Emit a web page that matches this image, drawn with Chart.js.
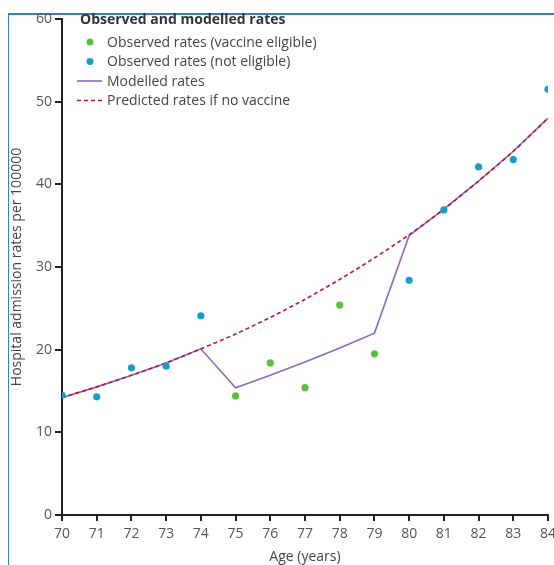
<!DOCTYPE html>
<html>
<head>
<meta charset="utf-8">
<script src="https://cdn.jsdelivr.net/npm/chart.js@4"></script>
<style>
  html, body { margin: 0; padding: 0; background: #fff; overflow: hidden; }
  #wrap { position: relative; width: 554px; height: 565px; overflow: hidden; background: #fff; }
  #frame { position: absolute; left: 8px; top: 13px; right: -2px; bottom: -2px; z-index: 0;
           border-left: 1px solid #2f80d2; border-top: 2px solid #2f80d2; }
  #box { position: absolute; left: 0; top: 0; width: 580px; height: 565px; z-index: 1; }
</style>
</head>
<body>
<div id="wrap">
  <div id="frame"></div>
  <div id="box"><canvas id="rates"></canvas></div>
</div>
<script>
const chartFont = "'Open Sans', 'Noto Sans', Arial";

const ages = [70, 71, 72, 73, 74, 75, 76, 77, 78, 79, 80, 81, 82, 83, 84];
const observed = [14.5, 14.3, 17.8, 18.0, 24.1, 14.4, 18.4, 15.4, 25.4, 19.5, 28.4, 36.9, 42.1, 43.0, 51.5];
const eligibleAges = [75, 76, 77, 78, 79];
const modelled = [14.2, 15.5, 16.9, 18.4, 20.1, 15.4, 16.9, 18.5, 20.2, 22.0, 33.8, 37.0, 40.4, 44.0, 48.0];
const predicted = [14.2, 15.5, 16.9, 18.4, 20.1, 21.9, 23.9, 26.1, 28.5, 31.1, 33.9, 37.0, 40.4, 44.0, 48.0];
const yTicks = [0, 10, 20, 30, 40, 50, 60];

const toXY = (vals, keep) => ages
  .map((a, i) => ({ x: a, y: vals[i] }))
  .filter(p => keep(p.x));

const isEligible = a => eligibleAges.includes(a);

const legendTitle = "Observed and modelled rates";

// legend drawn inside the plot area, top-left
const insideLegend = {
  id: "insideLegend",
  afterDraw(chart) {
    const ctx = chart.ctx;
    const x0 = 80, y0 = 20;
    ctx.save();
    ctx.textBaseline = "middle";
    ctx.fillStyle = "#333";
    ctx.font = "bold 14px " + chartFont;
    ctx.fillText(legendTitle, x0, y0);
    ctx.font = "14px " + chartFont;
    chart.data.datasets.forEach((ds, i) => {
      const y = y0 + 22 + i * 19.5;
      ctx.save();
      if (ds.type === "scatter") {
        ctx.fillStyle = ds.backgroundColor;
        ctx.beginPath();
        ctx.arc(x0 + 10, y, 3.5, 0, Math.PI * 2);
        ctx.fill();
      } else {
        ctx.strokeStyle = ds.borderColor;
        ctx.lineWidth = ds.borderWidth;
        ctx.setLineDash(ds.borderDash || []);
        ctx.beginPath();
        ctx.moveTo(x0 - 3, y);
        ctx.lineTo(x0 + 22, y);
        ctx.stroke();
      }
      ctx.restore();
      ctx.fillStyle = "#444";
      ctx.fillText(ds.label, x0 + 27, y + 1);
    });
    ctx.restore();
  }
};

new Chart(document.getElementById("rates"), {
  data: {
    datasets: [
      {
        type: "scatter",
        label: "Observed rates (vaccine eligible)",
        data: toXY(observed, isEligible),
        backgroundColor: "#5cbf3e",
        borderWidth: 0,
        pointRadius: 3.6,
        order: 0
      },
      {
        type: "scatter",
        label: "Observed rates (not eligible)",
        data: toXY(observed, a => !isEligible(a)),
        backgroundColor: "#199dcb",
        borderWidth: 0,
        pointRadius: 3.6,
        order: 1
      },
      {
        type: "line",
        label: "Modelled rates",
        data: toXY(modelled, () => true),
        borderColor: "#8a6ab8",
        borderWidth: 1.6,
        pointRadius: 0,
        tension: 0,
        order: 3
      },
      {
        type: "line",
        label: "Predicted rates if no vaccine",
        data: toXY(predicted, () => true),
        borderColor: "#b3164c",
        borderWidth: 1.6,
        borderDash: [4, 3],
        pointRadius: 0,
        tension: 0.3,
        order: 2
      }
    ]
  },
  options: {
    responsive: true,
    maintainAspectRatio: false,
    animation: false,
    layout: { padding: { top: 19, right: 32, bottom: 0, left: 0 } },
    plugins: {
      legend: { display: false },
      tooltip: { enabled: false }
    },
    scales: {
      x: {
        type: "linear",
        min: 70,
        max: 84,
        afterFit: s => { s.height = 50; },
        afterBuildTicks: s => { s.ticks = ages.map(v => ({ value: v })); },
        border: { color: "#222", width: 2 },
        grid: { drawOnChartArea: false, drawTicks: true, tickLength: 6, color: "#222", lineWidth: 2 },
        ticks: { color: "#555", font: { family: chartFont, size: 14 }, padding: 5, maxRotation: 0 },
        title: { display: true, text: "Age (years)", color: "#444", font: { family: chartFont, size: 14 }, padding: 0 }
      },
      y: {
        min: 0,
        max: 60,
        afterFit: s => { s.width = 62; },
        afterBuildTicks: s => { s.ticks = yTicks.map(v => ({ value: v })); },
        border: { color: "#222", width: 2 },
        grid: { drawOnChartArea: false, drawTicks: true, tickLength: 7, color: "#222", lineWidth: 2 },
        ticks: { color: "#555", font: { family: chartFont, size: 14 }, padding: 3 },
        title: { display: true, text: "Hospital admission rates per 100000", color: "#444", font: { family: chartFont, size: 14 }, padding: { top: 9, bottom: 0 } }
      }
    }
  },
  plugins: [insideLegend]
});
</script>
</body>
</html>
